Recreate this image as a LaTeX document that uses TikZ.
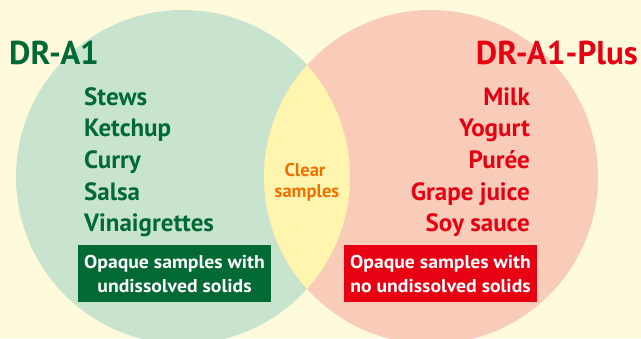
\documentclass[tikz,border=0pt]{standalone}
\usepackage{fontspec}
\setmainfont{PT Sans}
\newfontfamily\boxfont{PT Sans}[FakeStretch=1.06]
\definecolor{bg}{HTML}{FFFADC}
\definecolor{cgreen}{HTML}{C8E4CF}
\definecolor{cpink}{HTML}{F8CCB8}
\definecolor{cyell}{HTML}{FFF5AE}
\definecolor{tgreen}{HTML}{006934}
\definecolor{tred}{HTML}{E60012}
\definecolor{torange}{HTML}{EE7000}
\begin{document}
\begin{tikzpicture}[x=1pt,y=-1pt,
  title/.style={font=\fontsize{33}{36}\selectfont\bfseries, inner sep=0pt},
  item/.style={font=\fontsize{25}{30}\selectfont\bfseries, inner sep=0pt},
  boxtxt/.style={font=\boxfont\fontsize{18.6}{22}\selectfont\bfseries, text=white, inner sep=0pt, anchor=base},
  boxlab/.style={fill=#1, minimum width=193pt, minimum height=57pt, inner sep=0pt}]
\fill[bg] (0,0) rectangle (641,338);
\useasboundingbox (0,0) rectangle (641,338);
\begin{scope}
\clip (0,0) rectangle (641,338);
\fill[cgreen] (183,177) circle (167);
\fill[cpink] (431,177) circle (167);
\begin{scope}
\clip (183,177) circle (167);
\fill[cyell] (431,177) circle (167);
\end{scope}
\end{scope}
\node[title, text=tgreen, anchor=base west] (t1) at (9,64) {DR-A1};
\node[title, text=tred, anchor=base east] (t2) at (638,64) {DR-A1-Plus};
\foreach \txt [count=\i] in {Stews,Ketchup,Curry,Salsa,Vinaigrettes}
  \node[item, text=tgreen, anchor=base west] (l\i) at (84,{105+31.7*(\i-1)}) {\txt};
\foreach \txt [count=\i] in {Milk,Yogurt,Purée,Grape juice,Soy sauce}
  \node[item, text=tred, anchor=base east] (r\i) at (530,{105+31.7*(\i-1)}) {\txt};
\node[font=\fontsize{18.5}{21}\selectfont\bfseries, text=torange, inner sep=0pt, anchor=base] (mid1) at (305,176) {Clear};
\node[font=\fontsize{18.5}{21}\selectfont\bfseries, text=torange, inner sep=0pt, anchor=base] (mid2) at (307,197) {samples};
\node[boxlab=tgreen] (b1) at (174.5,273.5) {};
\node[boxtxt] (b1a) at ([yshift=5.5pt]b1.center) {Opaque samples with};
\node[boxtxt] (b1b) at ([yshift=-18.5pt]b1.center) {undissolved solids};
\node[boxlab=tred] (b2) at (440.5,273.5) {};
\node[boxtxt] (b2a) at ([yshift=5.5pt]b2.center) {Opaque samples with};
\node[boxtxt] (b2b) at ([yshift=-18.5pt]b2.center) {no undissolved solids};
\end{tikzpicture}
\end{document}
